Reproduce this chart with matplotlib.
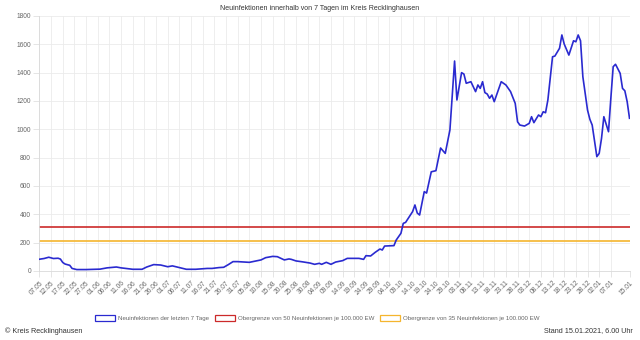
import datetime as dt
import matplotlib
matplotlib.use('Agg')
import matplotlib.pyplot as plt
from matplotlib.patches import Patch

plt.rcParams['font.family'] = ['Liberation Sans', 'DejaVu Sans']

# days after 07.05.2020 and 7-day case counts
start = dt.date(2020, 5, 7)
days = [0, 2, 4, 6, 8, 9, 10, 11, 13, 14, 16, 20, 26, 29, 33, 35, 40, 44, 46, 49,
        52, 55, 57, 60, 63, 67, 72, 74, 77, 79, 81, 83, 85, 90, 92, 95, 97, 100, 102,
        105, 107, 108, 110, 113, 116, 118, 120, 121, 123, 125, 127, 130, 132, 137,
        139, 140, 142, 144, 146, 147, 148, 152, 153, 155, 156, 157, 160, 161, 162,
        163, 165, 166, 168, 170, 172, 174, 176, 178, 179, 181, 182, 183, 185, 187,
        188, 189, 190, 191, 192, 193, 194, 195, 197, 198, 200, 201, 202, 204, 205,
        206, 208, 210, 211, 212, 214, 215, 216, 217, 218, 220, 221, 223, 224, 225,
        227, 229, 230, 231, 232, 233, 235, 236, 237, 239, 240, 241, 242, 244, 245,
        246, 247, 249, 250, 251, 252, 253]
cases = [83, 88, 97, 88, 90, 84, 60, 49, 40, 18, 10, 10, 13, 22, 28, 22, 12, 12, 28, 45,
         42, 30, 36, 24, 12, 12, 18, 18, 24, 26, 45, 66, 66, 61, 68, 78, 94, 103, 101,
         78, 85, 82, 71, 64, 56, 47, 54, 47, 61, 47, 63, 73, 89, 89,
         82, 108, 106, 132, 155, 148, 176, 179, 219, 266, 336, 343, 419, 466, 409,
         395, 560, 550, 700, 708, 868, 830, 995, 1482, 1207, 1400, 1390, 1325, 1336, 1266,
         1313, 1289, 1336, 1259, 1249, 1219, 1242, 1195, 1289, 1336, 1313, 1289, 1266, 1183, 1053,
         1030, 1023, 1042, 1089, 1047, 1101, 1089, 1124, 1117, 1207, 1512, 1517, 1572, 1666, 1602,
         1524, 1625, 1618, 1666, 1625, 1371, 1136, 1071, 1030, 807, 830, 936, 1089, 983, 1219,
         1442, 1459, 1395, 1289, 1272, 1195, 1078]

limit_50 = 307
limit_35 = 215

tick_days = list(range(0, 250, 5)) + [253]
tick_labels = [(start + dt.timedelta(days=d)).strftime('%d.%m') for d in tick_days]

fig = plt.figure(figsize=(6.4, 3.4), dpi=100)
ax = fig.add_axes([0.0616, 0.203, 0.922, 0.75])

ax.plot(days, cases, color='#2a2ad0', lw=1.2, zorder=3, solid_joinstyle='round')
ax.axhline(limit_50, color='#cc2a2a', lw=1.2, zorder=2)
ax.axhline(limit_35, color='#f5b52e', lw=1.2, zorder=2)

ax.set_xlim(0, 253)
ax.set_ylim(0, 1800)
ax.set_yticks(range(0, 1801, 200))
ax.set_xticks(tick_days)
ax.set_xticklabels(tick_labels, rotation=45, ha='right', rotation_mode='anchor')
ax.tick_params(axis='both', labelsize=4.8, labelcolor='#666666', color='#e0e0e0',
               length=4, width=0.6, pad=2)
ax.grid(True, color='#ebebeb', lw=0.6)
ax.set_axisbelow(True)
for s in ['top', 'right']:
    ax.spines[s].set_visible(False)
for s in ['left', 'bottom']:
    ax.spines[s].set_color('#d9d9d9')
    ax.spines[s].set_linewidth(0.6)

fig.text(0.5, 1 - 8 / 340, 'Neuinfektionen innerhalb von 7 Tagen im Kreis Recklinghausen',
         ha='center', va='center', fontsize=5.0, color='#333333')

handles = [Patch(facecolor='white', edgecolor='#2a2ad0', lw=0.9),
           Patch(facecolor='white', edgecolor='#cc2a2a', lw=0.9),
           Patch(facecolor='white', edgecolor='#f5b52e', lw=0.9)]
names = ['Neuinfektionen der letzten 7 Tage',
         'Obergrenze von 50 Neuinfektionen je 100.000 EW',
         'Obergrenze von 35 Neuinfektionen je 100.000 EW']
leg = fig.legend(handles, names, loc='center', bbox_to_anchor=(0.496, 1 - 318 / 340),
                 ncol=3, frameon=False, fontsize=4.4, handlelength=3.3, handleheight=1.2,
                 handletextpad=0.5, columnspacing=0.9)
for t in leg.get_texts():
    t.set_color('#666666')

fig.text(5 / 640, 1 - 331 / 340, '\u00a9 Kreis Recklinghausen', ha='left', va='center',
         fontsize=5.2, color='#333333')
fig.text(633 / 640, 1 - 331 / 340, 'Stand 15.01.2021, 6.00 Uhr', ha='right', va='center',
         fontsize=5.2, color='#333333')

fig.savefig('out.png', dpi=100)
